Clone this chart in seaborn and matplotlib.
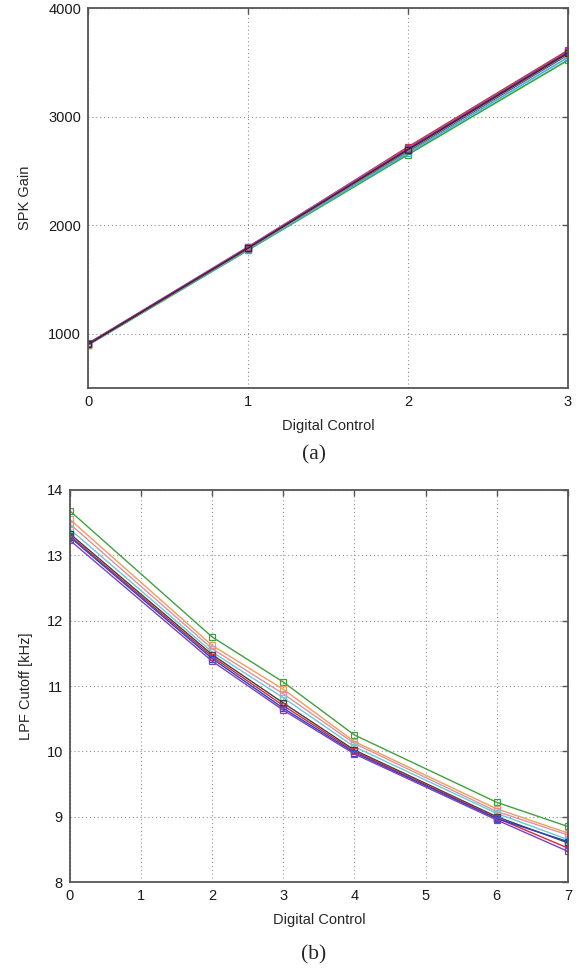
import matplotlib
matplotlib.use("Agg")
import matplotlib.pyplot as plt
import seaborn as sns
import pandas as pd

# Speaker gain vs. digital control word
gain_x = [0, 1, 2, 3]
gain_series = {
    "s1": [900, 1780, 2680, 3570],
    "s2": [895, 1770, 2650, 3520],
    "s3": [905, 1795, 2720, 3610],
    "s4": [898, 1775, 2665, 3545],
    "s5": [910, 1800, 2710, 3600],
    "s6": [900, 1785, 2690, 3580],
    "s7": [905, 1790, 2700, 3595],
    "s8": [902, 1788, 2695, 3585],
}
gain_colors = ["#3050d0", "#40a040", "#d03030", "#40b8c8", "#c040c0",
               "#e0a040", "#7040a0", "#402838"]

# Low-pass filter cutoff vs. digital control word
lpf_x = [0, 2, 3, 4, 6, 7]
lpf_series = {
    "t1": [13.68, 11.75, 11.06, 10.25, 9.22, 8.85],
    "t2": [13.55, 11.62, 10.95, 10.15, 9.12, 8.75],
    "t3": [13.48, 11.57, 10.88, 10.12, 9.08, 8.72],
    "t4": [13.40, 11.52, 10.82, 10.07, 9.05, 8.65],
    "t5": [13.33, 11.48, 10.74, 10.02, 9.00, 8.60],
    "t6": [13.30, 11.45, 10.70, 10.00, 8.98, 8.52],
    "t7": [13.28, 11.42, 10.66, 9.98, 8.97, 8.62],
    "t8": [13.23, 11.38, 10.63, 9.96, 8.95, 8.47],
}
lpf_colors = ["#40a040", "#e8a060", "#e090a0", "#70c8d0", "#404040",
              "#d03030", "#3040c0", "#8040c0"]


def to_long(xs, series):
    rows = []
    for name, vals in series.items():
        for x, v in zip(xs, vals):
            rows.append({"x": x, "y": v, "series": name})
    return pd.DataFrame(rows)


sns.set_theme(style="white")
plt.rcParams["font.family"] = ["Liberation Sans", "DejaVu Sans"]

fig = plt.figure(figsize=(5.87, 9.77), dpi=100)
ax1 = fig.add_axes([0.150, 0.6029, 0.8176, 0.3889])
ax2 = fig.add_axes([0.119, 0.0972, 0.8484, 0.4013])


def style_axes(ax):
    ax.grid(True, linestyle=(0, (1, 2.5)), color="#909090", linewidth=0.8)
    ax.set_axisbelow(True)
    for s in ax.spines.values():
        s.set_color("#555555")
        s.set_linewidth(1.3)
    ax.tick_params(direction="in", length=4, width=1, color="#555555",
                   top=True, right=True, labelsize=10.5, pad=5,
                   labelcolor="#1a1a1a")


def draw(ax, df, colors, lw):
    sns.lineplot(data=df, x="x", y="y", hue="series", palette=colors,
                 marker="s", markersize=5, linewidth=lw, legend=False,
                 ax=ax)
    for ln in ax.lines:
        c = ln.get_color()
        ln.set_markerfacecolor("none")
        ln.set_markeredgecolor(c)
        ln.set_markeredgewidth(0.9)


draw(ax1, to_long(gain_x, gain_series), gain_colors, 1.2)
ax1.set_xlim(0, 3)
ax1.set_ylim(500, 4000)
ax1.set_xticks([0, 1, 2, 3])
ax1.set_yticks([1000, 2000, 3000, 4000])
ax1.set_xlabel("Digital Control", fontsize=10.5, labelpad=7)
ax1.set_ylabel("SPK Gain", fontsize=10.5, labelpad=12)
style_axes(ax1)

draw(ax2, to_long(lpf_x, lpf_series), lpf_colors, 1.0)
ax2.set_xlim(0, 7)
ax2.set_ylim(8, 14)
ax2.set_xticks(range(0, 8))
ax2.set_yticks(range(8, 15))
ax2.set_xlabel("Digital Control", fontsize=10.5, labelpad=7)
ax2.set_ylabel("LPF Cutoff [kHz]", fontsize=10.5, labelpad=10)
style_axes(ax2)

fig.text(314 / 587, 1 - 455 / 977, "(a)", ha="center", va="center",
         fontsize=15.5, family=["Liberation Serif", "DejaVu Serif"])
fig.text(314 / 587, 1 - 955 / 977, "(b)", ha="center", va="center",
         fontsize=15.5, family=["Liberation Serif", "DejaVu Serif"])

fig.savefig("out.png", dpi=100, facecolor="white")
